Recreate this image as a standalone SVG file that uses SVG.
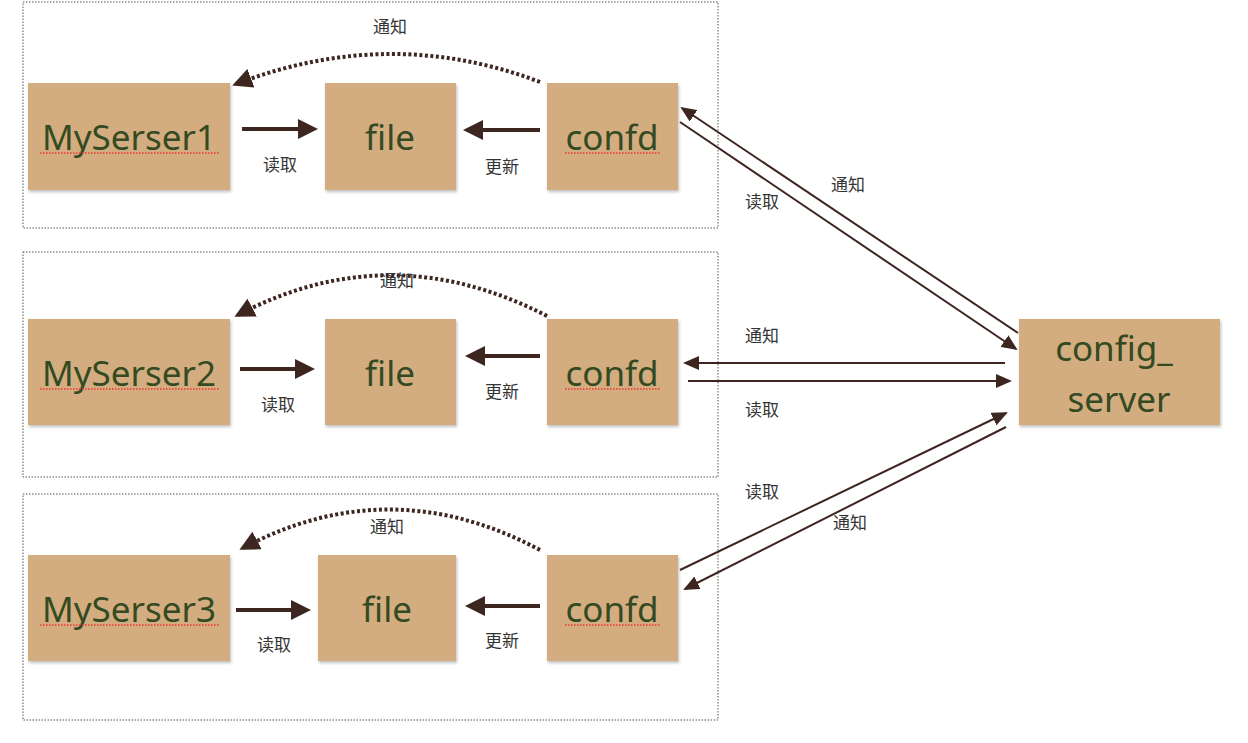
<svg xmlns="http://www.w3.org/2000/svg" width="1248" height="743" viewBox="0 0 1248 743">
<style>
.grp{fill:none;stroke:#555;stroke-width:1;stroke-dasharray:1.5 1.5}
.n{fill:#d3ad80;filter:url(#sh)}
.t{font-family:"Noto Sans","Open Sans",sans-serif;font-size:35px;fill:#344a22;text-anchor:middle}
.l{font-family:"Noto Sans CJK SC",sans-serif;font-size:17px;fill:#333;text-anchor:middle}
.sp{stroke:#e33;stroke-width:1.5;stroke-dasharray:1.5 1.5}
.th{stroke:#3d2620;stroke-width:4;fill:none}
.dt{stroke:#3d2620;stroke-width:4;fill:none;stroke-dasharray:3 2.5}
.ln{stroke:#3d2620;stroke-width:2;fill:none}
</style>
<defs>
<filter id="sh" x="-10%" y="-10%" width="125%" height="125%"><feDropShadow dx="1" dy="2" stdDeviation="1.5" flood-color="#000" flood-opacity="0.25"/></filter>
<marker id="big" markerWidth="5" markerHeight="5" refX="4" refY="2.5" orient="auto" markerUnits="strokeWidth"><path d="M0,0 L5,2.5 L0,5 z" fill="#3d2620"/></marker>
<marker id="sm" markerWidth="8" markerHeight="7" refX="7" refY="3.5" orient="auto" markerUnits="strokeWidth"><path d="M0,0 L8,3.5 L0,7 z" fill="#3d2620"/></marker>
</defs>
<rect width="1248" height="743" fill="#fff"/>
<g id="groups">
<rect class="grp" x="23" y="2" width="695" height="226"/>
<rect class="grp" x="23" y="252" width="695" height="225"/>
<rect class="grp" x="23" y="494" width="695" height="226"/>
</g>
<g id="n1"><rect class="n" x="28" y="83" width="202" height="107"/><text class="t" x="129" y="150">MySerser1</text><line class="sp" x1="40" y1="153" x2="220" y2="153"/></g>
<g id="f1"><rect class="n" x="325" y="83" width="131" height="107"/><text class="t" x="390" y="150">file</text></g>
<g id="c1"><rect class="n" x="547" y="83" width="131" height="107"/><text class="t" x="612" y="150">confd</text><line class="sp" x1="565" y1="153" x2="660" y2="153"/></g>
<g id="n2"><rect class="n" x="28" y="319" width="202" height="106"/><text class="t" x="129" y="386">MySerser2</text><line class="sp" x1="40" y1="389" x2="220" y2="389"/></g>
<g id="f2"><rect class="n" x="325" y="319" width="131" height="106"/><text class="t" x="390" y="386">file</text></g>
<g id="c2"><rect class="n" x="547" y="319" width="131" height="106"/><text class="t" x="612" y="386">confd</text><line class="sp" x1="565" y1="389" x2="660" y2="389"/></g>
<g id="n3"><rect class="n" x="28" y="555" width="202" height="106"/><text class="t" x="129" y="622">MySerser3</text><line class="sp" x1="40" y1="625" x2="220" y2="625"/></g>
<g id="f3"><rect class="n" x="318" y="555" width="138" height="106"/><text class="t" x="387" y="622">file</text></g>
<g id="c3"><rect class="n" x="547" y="555" width="131" height="106"/><text class="t" x="612" y="622">confd</text><line class="sp" x1="565" y1="625" x2="660" y2="625"/></g>
<g id="cs"><rect class="n" x="1019" y="319" width="201" height="106"/><text class="t" x="1114" y="361">config_</text><text class="t" x="1119" y="412">server</text></g>
<g id="connectors">
<line class="th" x1="242" y1="129" x2="314" y2="129" marker-end="url(#big)"/>
<line class="th" x1="540" y1="130" x2="467" y2="130" marker-end="url(#big)"/>
<path class="dt" d="M540,82 Q390,25 236,84" marker-end="url(#big)"/>
<line class="th" x1="240" y1="369" x2="311" y2="369" marker-end="url(#big)"/>
<line class="th" x1="540" y1="356" x2="469" y2="356" marker-end="url(#big)"/>
<path class="dt" d="M547,316 Q390,235 238,315" marker-end="url(#big)"/>
<line class="th" x1="236" y1="610" x2="307" y2="610" marker-end="url(#big)"/>
<line class="th" x1="540" y1="606" x2="469" y2="606" marker-end="url(#big)"/>
<path class="dt" d="M540,550 Q390,470 243,548" marker-end="url(#big)"/>
<line class="ln" x1="1018" y1="333" x2="682" y2="108" marker-end="url(#sm)"/>
<line class="ln" x1="680" y1="122" x2="1016" y2="349" marker-end="url(#sm)"/>
<line class="ln" x1="1005" y1="363" x2="685" y2="363" marker-end="url(#sm)"/>
<line class="ln" x1="688" y1="381" x2="1010" y2="381" marker-end="url(#sm)"/>
<line class="ln" x1="680" y1="570" x2="1006" y2="413" marker-end="url(#sm)"/>
<line class="ln" x1="1006" y1="427" x2="685" y2="589" marker-end="url(#sm)"/>
</g>
<g id="labels">
<text class="l" x="390" y="33">通知</text>
<text class="l" x="280" y="171">读取</text>
<text class="l" x="502" y="173">更新</text>
<text class="l" x="397" y="287">通知</text>
<text class="l" x="278" y="411">读取</text>
<text class="l" x="502" y="398">更新</text>
<text class="l" x="387" y="533">通知</text>
<text class="l" x="274" y="651">读取</text>
<text class="l" x="502" y="647">更新</text>
<text class="l" x="848" y="191">通知</text>
<text class="l" x="762" y="208">读取</text>
<text class="l" x="762" y="342">通知</text>
<text class="l" x="762" y="416">读取</text>
<text class="l" x="762" y="498">读取</text>
<text class="l" x="850" y="529">通知</text>
</g>
</svg>
